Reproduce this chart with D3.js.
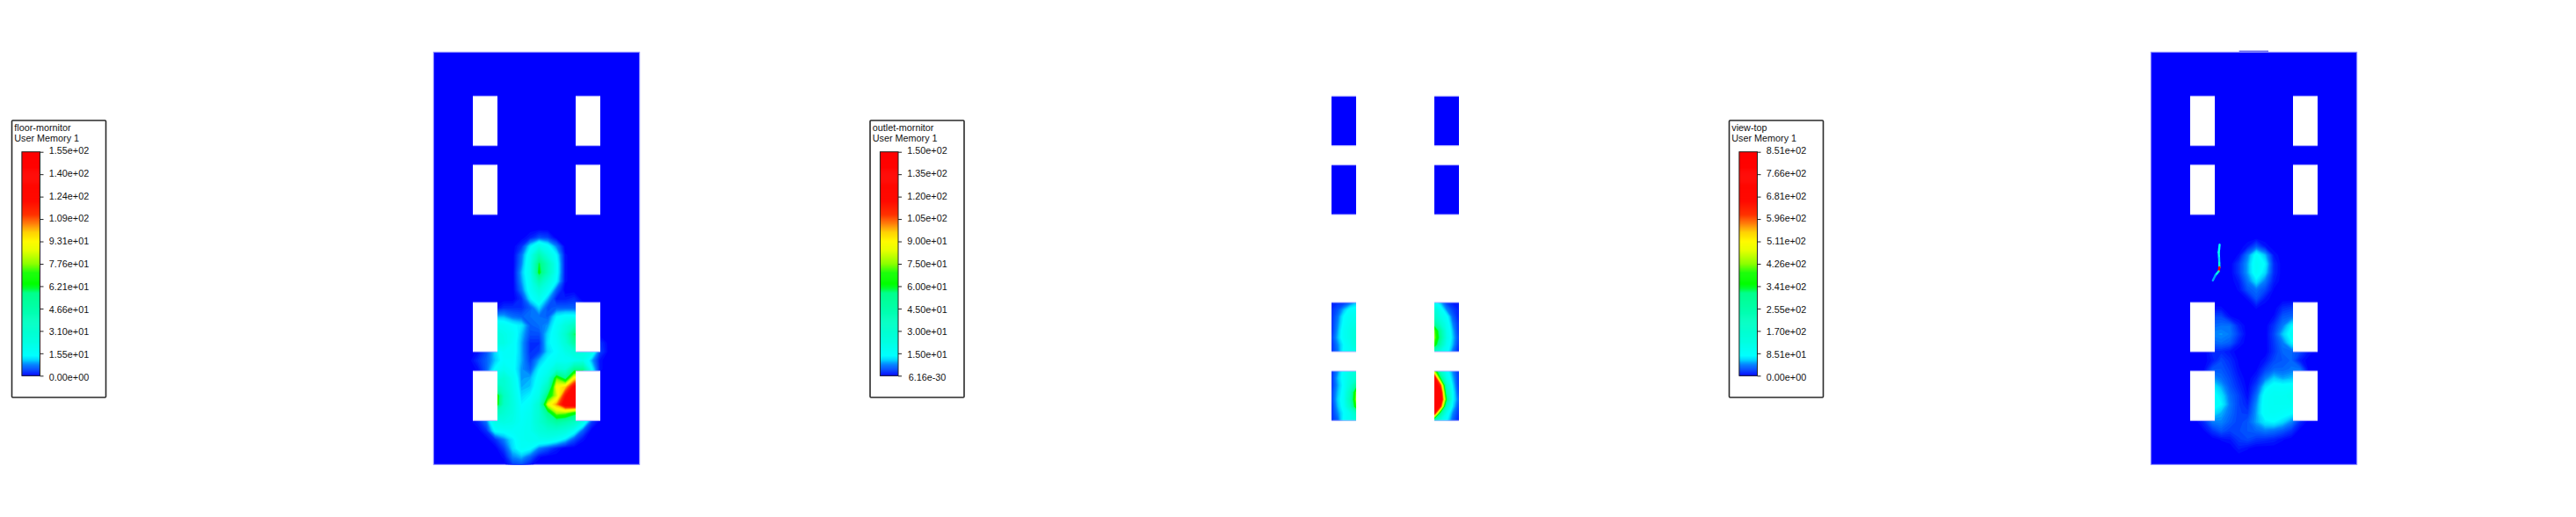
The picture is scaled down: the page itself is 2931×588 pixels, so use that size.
<!DOCTYPE html>
<html><head><meta charset="utf-8">
<script src="https://cdn.jsdelivr.net/npm/d3@7"></script>
<style>html,body{margin:0;background:#fff}svg{display:block}text{font-family:"Liberation Sans",Arial,sans-serif;font-size:10.8px;fill:#111}</style>
</head><body><div id="c"></div>
<script>
// Contour values (user memory 1). Rows run top to bottom.
const floorField = [
[0,0,0,0,0,0,0,0,0,0,0,0,0,0,0,0,0,0,0,0,0,0,0,0],
[0,0,0,0,0,0,0,0,0,0,0,2,5,4,0,0,0,0,0,0,0,0,0,0],
[0,0,0,0,0,0,0,0,0,0,3,13,22,16,8,0,0,0,0,0,0,0,0,0],
[0,0,0,0,0,0,0,0,0,0,7,18,45,25,14,1,0,0,0,0,0,0,0,0],
[0,0,0,0,0,0,0,0,0,0,8,20,62,40,16,1,0,0,0,0,0,0,0,0],
[0,0,0,0,0,0,0,0,0,0,10,20,66,40,16,1,0,0,0,0,0,0,0,0],
[0,0,0,0,0,0,0,0,0,0,9,18,45,26,14,1,0,0,0,0,0,0,0,0],
[0,0,0,0,0,0,0,0,0,0,7,17,28,18,6,0,0,0,0,0,0,0,0,0],
[0,0,0,0,0,0,0,0,0,0,3,13,20,10,2,2,3,0,0,0,0,0,0,0],
[0,0,0,0,0,0,0,1,3,3,3,6,12,5,6,6,6,3,0,0,0,0,0,0],
[0,0,0,0,0,0,0,10,10,7,6,7,7,6,14,16,16,10,0,0,0,0,0,0],
[0,0,0,0,0,0,0,20,18,15,13,6,7,9,17,26,38,38,10,0,0,0,0,0],
[0,0,0,0,0,0,0,25,22,18,11,5,5,12,18,32,60,60,15,0,0,0,0,0],
[0,0,0,0,0,0,0,25,23,17,10,3,3,13,17,28,50,40,15,3,0,0,0,0],
[0,0,0,0,0,1,5,12,17,17,10,3,4,12,15,22,28,25,20,4,0,0,0,0],
[0,0,0,0,0,3,6,11,16,16,10,4,10,15,18,18,20,22,10,1,0,0,0,0],
[0,0,0,0,0,1,6,15,20,16,9,6,14,18,30,28,55,55,15,1,0,0,0,0],
[0,0,0,0,0,0,8,25,30,20,9,10,16,25,75,55,95,95,15,0,0,0,0,0],
[0,0,0,0,0,0,10,45,32,22,10,11,18,40,92,100,125,125,15,0,0,0,0,0],
[0,0,0,0,0,0,12,80,38,24,12,14,22,62,85,120,135,135,15,0,0,0,0,0],
[0,0,0,0,0,0,12,78,36,25,14,17,30,88,105,130,135,135,15,0,0,0,0,0],
[0,0,0,0,0,0,10,40,30,24,16,19,30,55,80,78,66,60,15,0,0,0,0,0],
[0,0,0,0,0,2,7,22,24,22,17,20,30,42,50,45,38,20,4,0,0,0,0,0],
[0,0,0,0,0,0,3,15,16,17,18,20,26,30,30,26,17,6,0,0,0,0,0,0],
[0,0,0,0,0,0,0,3,8,13,18,20,20,20,17,12,5,1,0,0,0,0,0,0],
[0,0,0,0,0,0,0,0,4,12,17,15,8,5,2,0,0,0,0,0,0,0,0,0],
[0,0,0,0,0,0,0,0,1,8,10,6,1,0,0,0,0,0,0,0,0,0,0,0],
[0,0,0,0,0,0,0,0,0,3,4,1,0,0,0,0,0,0,0,0,0,0,0,0]
];
const topField = [
[0,0,0,0,0,0,0,0,0,0,0,0,0,0,0,0,0,0,0,0,0,0,0,0],
[0,0,0,0,0,0,0,0,0,0,0,0,0,0,0,0,0,0,0,0,0,0,0,0],
[0,0,0,0,0,0,0,0,0,0,0,8,30,8,0,0,0,0,0,0,0,0,0,0],
[0,0,0,0,0,0,0,0,0,0,5,42,88,58,8,0,0,0,0,0,0,0,0,0],
[0,0,0,0,0,0,0,0,0,0,20,52,98,76,15,0,0,0,0,0,0,0,0,0],
[0,0,0,0,0,0,0,0,0,0,20,52,95,66,15,0,0,0,0,0,0,0,0,0],
[0,0,0,0,0,0,0,0,0,0,10,40,70,42,10,0,0,0,0,0,0,0,0,0],
[0,0,0,0,0,0,0,0,0,0,5,28,38,25,3,0,0,0,0,0,0,0,0,0],
[0,0,0,0,0,0,0,0,0,0,0,5,28,8,0,0,0,0,0,0,0,0,0,0],
[0,0,0,0,0,0,0,5,5,0,0,0,5,0,0,15,20,20,0,0,0,0,0,0],
[0,0,0,0,0,0,0,25,25,5,0,0,0,0,5,30,35,35,0,0,0,0,0,0],
[0,0,0,0,0,0,0,35,38,38,12,0,0,0,18,42,75,75,0,0,0,0,0,0],
[0,0,0,0,0,0,0,45,48,42,20,0,0,0,24,60,90,90,0,0,0,0,0,0],
[0,0,0,0,0,0,0,35,38,32,10,0,0,0,20,42,75,75,0,0,0,0,0,0],
[0,0,0,0,0,0,0,15,15,8,0,0,0,0,18,35,35,25,8,0,0,0,0,0],
[0,0,0,0,0,0,0,10,25,15,3,0,0,8,25,30,35,10,0,0,0,0,0,0],
[0,0,0,0,0,0,3,30,30,20,5,0,3,22,35,35,40,40,0,0,0,0,0,0],
[0,0,0,0,0,0,10,50,38,25,10,0,12,42,62,52,58,58,0,0,0,0,0,0],
[0,0,0,0,0,0,15,75,55,30,15,2,25,70,90,88,90,90,0,0,0,0,0,0],
[0,0,0,0,0,0,15,88,70,38,22,5,38,90,98,98,110,110,0,0,0,0,0,0],
[0,0,0,0,0,0,15,90,78,42,22,12,48,92,98,98,100,100,0,0,0,0,0,0],
[0,0,0,0,0,0,15,70,55,38,22,20,52,92,95,90,80,60,0,0,0,0,0,0],
[0,0,0,0,0,0,15,42,45,32,22,30,52,72,78,65,45,15,0,0,0,0,0,0],
[0,0,0,0,0,0,3,18,30,22,25,30,35,42,38,30,18,0,0,0,0,0,0,0],
[0,0,0,0,0,0,0,0,5,8,20,25,18,15,12,5,0,0,0,0,0,0,0,0],
[0,0,0,0,0,0,0,0,0,0,10,5,0,0,0,0,0,0,0,0,0,0,0,0],
[0,0,0,0,0,0,0,0,0,0,0,0,0,0,0,0,0,0,0,0,0,0,0,0],
[0,0,0,0,0,0,0,0,0,0,0,0,0,0,0,0,0,0,0,0,0,0,0,0]
];
// Narrow streak in the view-top panel: [column, row, value]
const topStreak = [[7.82,1.83,70],[7.77,2.3,90],[7.72,2.7,80],[7.76,3.3,100],[7.78,3.9,60],[7.8,4.4,130],[7.72,4.85,850],[7.35,5.3,130],[7.05,5.9,50]];
const outletLowerLeft = [[2,3,3,6,10],[3,5,10,15,16],[3,7,14,18,20],[3,8,15,20,22],[3,9,17,22,26],[4,10,17,22,28],[3,8,14,20,26],[3,7,15,18,22]];
const outletLowerRight = [[16,10,4,2,2],[28,17,8,4,2],[35,22,15,6,2],[50,30,18,8,3],[75,48,20,10,3],[78,52,22,11,4],[70,42,18,10,3],[35,22,16,7,2]];
const outletBottomLeft = [[3,8,16,22,28],[3,10,16,24,30],[3,9,15,28,50],[4,10,16,36,75],[4,11,17,40,78],[3,10,16,34,70],[3,8,14,20,35],[3,6,15,20,26]];
const outletBottomRight = [[80,35,16,8,3],[130,60,20,10,3],[135,110,32,12,3],[140,130,45,14,4],[140,135,60,14,6],[135,115,35,12,4],[120,50,18,8,3],[40,22,14,6,2]];
const outletUpper = [[0,0],[0,0]];
const floorTicks = ["0.00e+00","1.55e+01","3.10e+01","4.66e+01","6.21e+01","7.76e+01","9.31e+01","1.09e+02","1.24e+02","1.40e+02","1.55e+02"];
const outletTicks = ["6.16e-30","1.50e+01","3.00e+01","4.50e+01","6.00e+01","7.50e+01","9.00e+01","1.05e+02","1.20e+02","1.35e+02","1.50e+02"];
const topTicks = ["0.00e+00","8.51e+01","1.70e+02","2.55e+02","3.41e+02","4.26e+02","5.11e+02","5.96e+02","6.81e+02","7.66e+02","8.51e+02"];
const floorMax = 155, outletMax = 150, topMax = 851;
const rampStops = [0,.03,.05,.07,.09,.15,.25,.37,.39,.41,.46,.5,.56,.6,.64,.68,.72,.78,1];
const rampColors = ["#0000ff","#0050ff","#0082ff","#00d2ff","#00ffff","#00ffe1","#00ffbe","#00ff8c","#00ff32","#00ff00","#14ff00","#8cff00","#e6ff00","#fffa00","#ffd200","#ff7800","#ff3200","#ff0a00","#ff0000"];

const W = 2931, H = 588;
const svg = d3.select("#c").append("svg").attr("width", W).attr("height", H);
svg.append("rect").attr("width", W).attr("height", H).attr("fill", "#fff");
const defs = svg.append("defs");
const ramp = d3.scaleLinear().domain(rampStops).range(rampColors).clamp(true);
const levels = d3.range(0.005, 0.12, 0.005).concat(d3.range(0.12, 0.9, 0.012));
const edge = "#8e8eff";
let clipN = 0;

function field(g, grid, max, xFirst, xLast, yFirst, yLast, clip) {
  const m = grid.length, n = grid[0].length;
  const xs = d3.scaleLinear().domain([0.5, n - 0.5]).range([xFirst, xLast]);
  const ys = d3.scaleLinear().domain([0.5, m - 0.5]).range([yFirst, yLast]);
  const id = "clip" + (clipN++);
  defs.append("clipPath").attr("id", id).append("rect")
    .attr("x", clip[0]).attr("y", clip[1]).attr("width", clip[2]).attr("height", clip[3]);
  const proj = d3.geoTransform({point(x, y) { this.stream.point(xs(x), ys(y)); }});
  const path = d3.geoPath(proj);
  const cs = d3.contours().size([n, m]).thresholds(levels.map(f => f * max))(grid.flat());
  g.append("g").attr("clip-path", `url(#${id})`).selectAll("path").data(cs).join("path")
    .attr("d", path).attr("fill", d => ramp(d.value / max));
}

const winY = [[109.3,165.7],[187.7,244],[344,400],[422,478.3]];
function holeEdges(g, xa, xb) {
  [xa, xb].forEach(x => winY.forEach(([a, b]) => [a, b].forEach(y =>
    g.append("line").attr("x1", x).attr("x2", x + 28).attr("y1", y).attr("y2", y)
      .attr("stroke", "#b4b4ff").attr("stroke-width", 1))));
}
function solidPanel(x0, grid, max, holeA, holeB, firstCol, rowStart) {
  const g = svg.append("g");
  g.append("rect").attr("x", x0).attr("y", 59.3).attr("width", 234.4).attr("height", 469)
    .attr("fill", "#0000ff").attr("stroke", edge).attr("stroke-width", 1);
  field(g, grid, max, firstCol, firstCol + 230, rowStart, rowStart + 270, [x0, 59.3, 234.4, 469]);
  [holeA, holeB].forEach(x => winY.forEach(([a, b]) =>
    g.append("rect").attr("x", x).attr("y", a).attr("width", 28).attr("height", b - a).attr("fill", "#fff")));
  holeEdges(g, holeA, holeB);
  return g;
}

solidPanel(493.3, floorField, floorMax, 538, 655, 493.3, 260);
const gTop = solidPanel(2447.3, topField, topMax, 2492, 2609, 2447.3, 260);
gTop.append("line").attr("x1", 2547.7).attr("x2", 2581).attr("y1", 58.3).attr("y2", 58.3).attr("stroke", "#6a6aee").attr("stroke-width", 1.4);
const sx = d3.scaleLinear().domain([0, 23]).range([2447.3, 2677.3]);
const sy = d3.scaleLinear().domain([0, 27]).range([260, 530]);
gTop.append("g").selectAll("line").data(d3.pairs(topStreak)).join("line")
  .attr("x1", d => sx(d[0][0])).attr("y1", d => sy(d[0][1]))
  .attr("x2", d => sx(d[1][0])).attr("y2", d => sy(d[1][1]))
  .attr("stroke", d => ramp(d[1][2] / topMax)).attr("stroke-width", 2.4).attr("stroke-linecap", "round");

const gOut = svg.append("g");
const outletWindows = [
  [1515,0,outletUpper],[1632,0,outletUpper],[1515,1,outletUpper],[1632,1,outletUpper],
  [1515,2,outletLowerLeft],[1632,2,outletLowerRight],[1515,3,outletBottomLeft],[1632,3,outletBottomRight]];
outletWindows.forEach(([x, r, grid]) => {
  const [a, b] = winY[r];
  gOut.append("rect").attr("x", x).attr("y", a).attr("width", 28).attr("height", b - a).attr("fill", "#0000ff");
  field(gOut, grid, outletMax, x, x + 28, a, b, [x, a, 28, b - a]);
});
holeEdges(gOut, 1515, 1632);

function legend(x, title, ticks) {
  const g = svg.append("g");
  g.append("rect").attr("x", x).attr("y", 137).attr("width", 107).attr("height", 315)
    .attr("fill", "#fff").attr("stroke", "#2a2a2a").attr("stroke-width", 1.6).attr("rx", 1);
  [title, "User Memory 1"].forEach((t, i) =>
    g.append("text").attr("x", x + 2.8).attr("y", 148.5 + i * 12.3).text(t));
  const barX = x + 11.4, barW = 20.6;
  const y = d3.scaleLinear().domain([0, 1]).range([427.3, 172.7]);
  const bands = d3.range(0, 1, 0.004);
  g.append("g").selectAll("rect").data(bands).join("rect")
    .attr("x", barX).attr("width", barW)
    .attr("y", d => y(d + 0.004)).attr("height", y(0) - y(0.004) + 0.6)
    .attr("fill", d => ramp(d));
  g.append("rect").attr("x", barX).attr("y", 172.7).attr("width", barW).attr("height", 254.6)
    .attr("fill", "none").attr("stroke", "#222").attr("stroke-width", 1);
  const axis = d3.axisRight(y).tickValues(ticks.map((_, i) => i / 10)).tickSize(4)
    .tickFormat((_, i) => ticks[i]);
  const ag = g.append("g").attr("transform", `translate(${barX + barW},0)`).call(axis);
  ag.select(".domain").remove();
  ag.selectAll("line").attr("stroke", "#222");
  ag.selectAll("text").attr("x", 33).attr("text-anchor", "middle").attr("dy", "0.32em")
    .attr("transform", (_, i) => `translate(0,${1.6 - i * 0.32})`)
    .style("font-family", '"Liberation Sans",Arial,sans-serif').style("font-size", "10.8px");
}
legend(13.5, "floor-mornitor", floorTicks);
legend(990, "outlet-mornitor", outletTicks);
legend(1967.5, "view-top", topTicks);
</script></body></html>
